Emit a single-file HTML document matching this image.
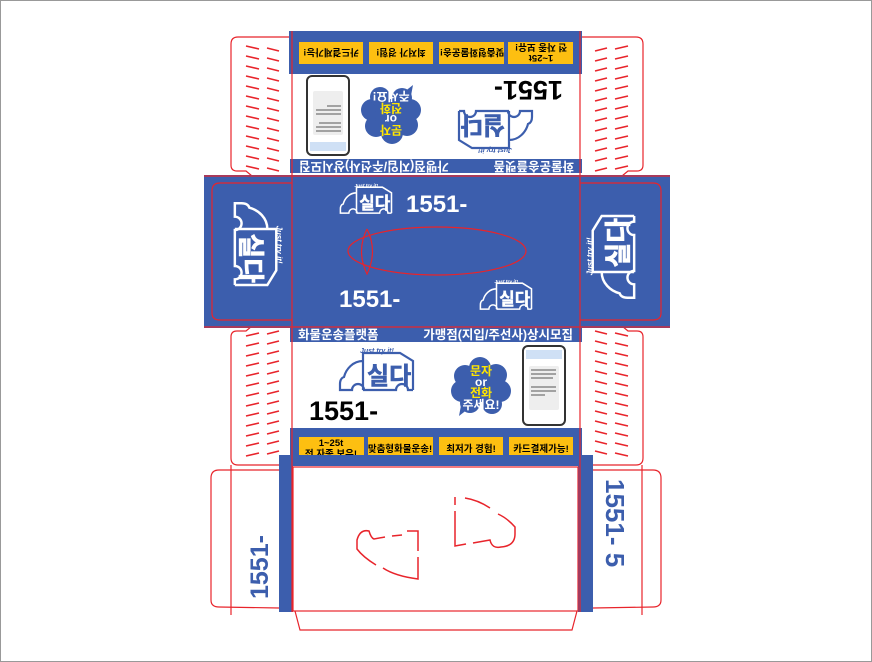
<!DOCTYPE html>
<html><head><meta charset="utf-8"><style>
html,body{margin:0;padding:0;background:#fff;}
svg{display:block;}
text{font-family:"Liberation Sans","Noto Sans CJK KR",sans-serif;font-weight:bold;}
</style></head><body>
<svg width="872" height="662" viewBox="0 0 872 662" xmlns="http://www.w3.org/2000/svg">
<defs>
  <g id="logo">
    <path d="M25 43 L25 6 L62 6 L75 14 L75 43 M25 14 C15 14 8 22 6 30 C3 31 2 34 2 37 L2 43 L14 43 A6 6 0 0 1 26 43 L58 43 A6 6 0 0 1 70 43 L75 43" fill="none" stroke="currentColor" stroke-width="2.2"/>
    <text x="29" y="37" font-size="24" fill="currentColor" stroke="currentColor" stroke-width="0.6">실다</text>
    <text x="22" y="6" font-size="7" font-style="italic" fill="currentColor">Just try it!</text>
  </g>
  <g id="dashes" stroke="#e8242b" stroke-width="1.6">
    <line x1="595" y1="51" x2="607" y2="48"/><line x1="615" y1="49" x2="628" y2="46"/>
    <line x1="595" y1="61" x2="607" y2="58"/><line x1="615" y1="59" x2="628" y2="56"/>
    <line x1="595" y1="71" x2="607" y2="68"/><line x1="615" y1="69" x2="628" y2="66"/>
    <line x1="595" y1="81" x2="607" y2="78"/><line x1="615" y1="79" x2="628" y2="76"/>
    <line x1="595" y1="91" x2="607" y2="88"/><line x1="615" y1="89" x2="628" y2="86"/>
    <line x1="595" y1="101" x2="607" y2="98"/><line x1="615" y1="99" x2="628" y2="96"/>
    <line x1="595" y1="111" x2="607" y2="108"/><line x1="615" y1="109" x2="628" y2="106"/>
    <line x1="595" y1="121" x2="607" y2="118"/><line x1="615" y1="119" x2="628" y2="116"/>
    <line x1="595" y1="131" x2="607" y2="128"/><line x1="615" y1="129" x2="628" y2="126"/>
    <line x1="595" y1="141" x2="607" y2="138"/><line x1="615" y1="139" x2="628" y2="136"/>
    <line x1="595" y1="151" x2="607" y2="148"/><line x1="615" y1="149" x2="628" y2="146"/>
    <line x1="595" y1="161" x2="607" y2="158"/><line x1="615" y1="159" x2="628" y2="156"/>
    <line x1="595" y1="171" x2="607" y2="168"/><line x1="615" y1="169" x2="628" y2="166"/>
    <path d="M579 37 L636 37 Q643 37 643 44 L643 165 Q643 171 637 171 L628 171 L622 176 L579 176" fill="none" stroke-width="1.2"/>
  </g>
  <g id="panel">
    <rect x="290" y="328" width="292" height="14" fill="#3c5ead"/>
    <text x="298" y="339" font-size="12.5" fill="#fff">화물운송플랫폼</text>
    <text x="573" y="339" font-size="12.5" fill="#fff" text-anchor="end">가맹점(지입/주선사)상시모집</text>
    <g transform="translate(338,347)" color="#3c5ead"><use href="#logo"/></g>
    <text x="309" y="420" font-size="27" fill="#000">1551-</text>
    <g fill="#3c5ead">
      <circle cx="480" cy="368" r="11"/><circle cx="465" cy="376" r="11"/><circle cx="496" cy="375" r="11"/>
      <circle cx="462" cy="391" r="11"/><circle cx="500" cy="391" r="11"/><circle cx="470" cy="403" r="10"/>
      <circle cx="492" cy="404" r="10"/><circle cx="481" cy="386" r="16"/>
      <path d="M462 400 L459 416 L473 405 Z"/>
    </g>
    <text x="481" y="375" font-size="12" fill="#ffe600" text-anchor="middle">문자</text>
    <text x="481" y="386" font-size="12" fill="#fff" text-anchor="middle">or</text>
    <text x="481" y="397" font-size="12" fill="#ffe600" text-anchor="middle">전화</text>
    <text x="481" y="409" font-size="12" fill="#fff" text-anchor="middle">주세요!</text>
    <rect x="523" y="346" width="42" height="79" rx="5" fill="#fff" stroke="#333" stroke-width="2"/>
    <rect x="526" y="350" width="36" height="9" fill="#cfe0f5"/>
    <rect x="529" y="366" width="30" height="44" rx="2" fill="#eee"/>
    <g stroke="#555" stroke-width="1"><line x1="531" y1="370" x2="556" y2="370"/><line x1="531" y1="374" x2="556" y2="374"/><line x1="531" y1="378" x2="553" y2="378"/><line x1="531" y1="387" x2="556" y2="387"/><line x1="531" y1="391" x2="556" y2="391"/><line x1="531" y1="395" x2="545" y2="395"/></g>
    <rect x="290" y="428" width="292" height="27" fill="#3c5ead"/>
    <rect x="299" y="437" width="65" height="22" fill="#fdbf11"/>
    <rect x="368" y="437" width="65" height="22" fill="#fdbf11"/>
    <rect x="439" y="437" width="64" height="22" fill="#fdbf11"/>
    <rect x="509" y="437" width="64" height="22" fill="#fdbf11"/>
    <text x="331" y="446" font-size="9.5" fill="#000" text-anchor="middle">1~25t</text>
    <text x="331" y="457" font-size="9.5" fill="#000" text-anchor="middle">전 자종 보유!</text>
    <text x="400" y="452" font-size="9.5" fill="#000" text-anchor="middle">맞춤형화물운송!</text>
    <text x="471" y="452" font-size="9.5" fill="#000" text-anchor="middle">최저가 경험!</text>
    <text x="541" y="452" font-size="9.5" fill="#000" text-anchor="middle">카드결제가능!</text>
  </g>
</defs>
<rect x="0.5" y="0.5" width="871" height="661" fill="#fff" stroke="#999"/>
<use href="#dashes"/>
<use href="#dashes" transform="translate(874,0) scale(-1,1)"/>
<use href="#dashes" transform="translate(0,502) scale(1,-1)"/>
<use href="#dashes" transform="translate(874,502) scale(-1,-1)"/>
<rect x="289" y="31" width="293" height="144" fill="#fff"/>
<rect x="289" y="31" width="293" height="43" fill="#3c5ead"/>
<use href="#panel" transform="rotate(180 436 250.5)"/>
<rect x="290" y="342" width="292" height="86" fill="#fff"/>
<use href="#panel"/>
<rect x="279" y="455" width="314" height="157" fill="#3c5ead"/>
<rect x="293" y="466" width="285" height="146" fill="#fff"/>
<rect x="204" y="175" width="466" height="153" fill="#3c5ead"/>
<g fill="none" stroke="#e8242b" stroke-width="1.2">
  <path d="M292 183 L220 183 Q212 183 212 191 L212 313 Q212 320 220 320 L292 320"/>
  <path d="M580 183 L653 183 Q661 183 661 191 L661 313 Q661 320 653 320 L580 320"/>
  <line x1="292" y1="31" x2="292" y2="612"/><line x1="580" y1="31" x2="580" y2="612"/>
  <line x1="204" y1="176" x2="670" y2="176"/><line x1="204" y1="327" x2="670" y2="327"/>
  <ellipse cx="437" cy="251" rx="89" ry="24"/>
  <path d="M367 229 Q356 251 367 274 Q378 251 367 229"/>
</g>
<g color="#fff">
  <g transform="translate(339,183) scale(0.7)"><use href="#logo"/></g>
  <g transform="translate(479,279) scale(0.7)"><use href="#logo"/></g>
  <g transform="translate(283,201) rotate(90) scale(1.12)"><use href="#logo"/></g>
  <g transform="translate(586,300) rotate(-90) scale(1.12)"><use href="#logo"/></g>
</g>
<text x="406" y="212" font-size="24" fill="#fff">1551-</text>
<text x="339" y="307" font-size="24" fill="#fff">1551-</text>
<g fill="none" stroke="#e8242b" stroke-width="1.2">
  <rect x="293" y="467" width="285" height="144"/>
  <path d="M279 470 L219 470 Q211 470 211 478 L211 600 Q211 607 219 607 L279 608"/>
  <path d="M593 470 L653 470 Q661 470 661 478 L661 600 Q661 607 653 607 L593 608"/>
  <line x1="231" y1="465" x2="231" y2="615"/><line x1="642" y1="465" x2="642" y2="615"/>
  <path d="M295 611 L300 630 L572 630 L577 611"/>
  <path d="M407 531 L418 531 L418 551 M418 557 L418 579 Q395 576 383 568 M376 565 Q363 557 357 549 L357 540 Q360 529 369 531 Q371 538 374 539 L385 537 M392 536 L402 535" stroke-width="1.5"/>
  <path d="M455 497 L455 505 M455 511 L455 546 L466 544 M473 543 L490 540 Q492 549 501 547 Q515 546 515 534 L515 527 Q507 518 498 514 M490 508 Q478 500 465 498" stroke-width="1.5"/>
</g>
<text transform="translate(268,599) rotate(-90)" font-size="25" fill="#3c5ead">1551-</text>
<text transform="translate(606,479) rotate(90)" font-size="26" fill="#3c5ead">1551-  5</text>
</svg>
</body></html>
